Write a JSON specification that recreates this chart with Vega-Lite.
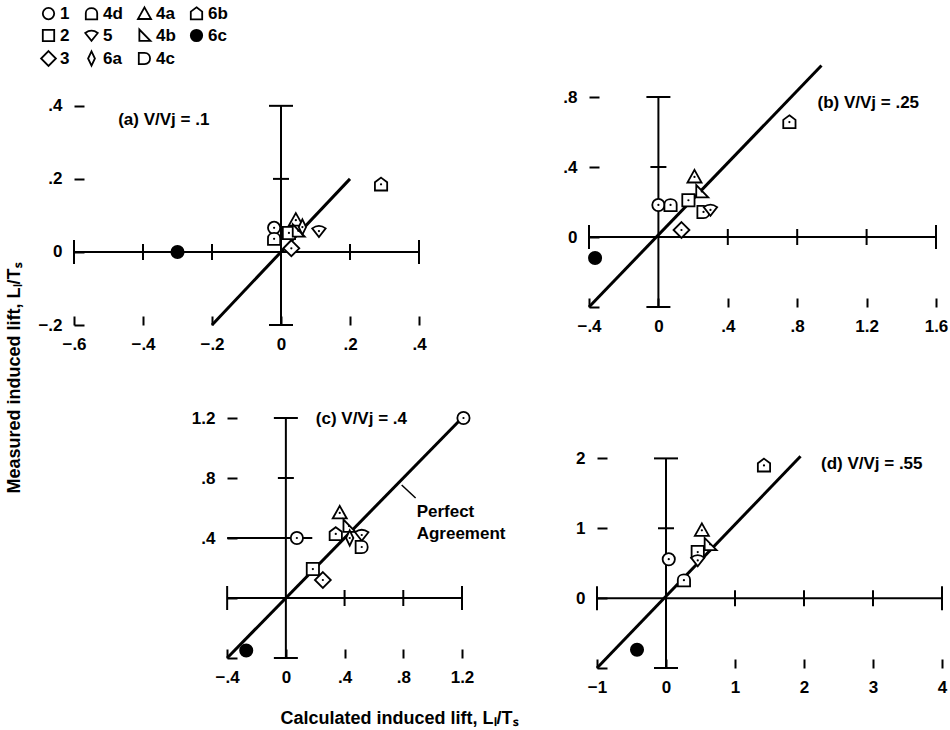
{
  "$schema": "https://vega.github.io/schema/vega-lite/v6.json",
  "padding": {"left": 5, "top": 5, "right": 2, "bottom": 2},
  "title": {"text": "Measured induced lift, Lₗ/Tₛ", "orient": "left", "anchor": "middle", "fontSize": 18, "font": "Liberation Sans", "fontWeight": "bold", "color": "black", "offset": 14, "dx": -12},
  "datasets": {
    "pa": [
      {"config": "6c", "x": -0.30, "y": 0.0},
      {"config": "6b", "x": 0.29, "y": 0.185},
      {"config": "1", "x": -0.02, "y": 0.066},
      {"config": "4d", "x": -0.02, "y": 0.036},
      {"config": "2", "x": 0.023, "y": 0.052},
      {"config": "4a", "x": 0.043, "y": 0.087},
      {"config": "4b", "x": 0.05, "y": 0.058},
      {"config": "6a", "x": 0.062, "y": 0.068},
      {"config": "5", "x": 0.11, "y": 0.057},
      {"config": "3", "x": 0.03, "y": 0.01}
    ],
    "pb": [
      {"config": "6c", "x": -0.365, "y": -0.12},
      {"config": "1", "x": 0.0, "y": 0.183},
      {"config": "4d", "x": 0.07, "y": 0.183},
      {"config": "2", "x": 0.173, "y": 0.21},
      {"config": "4a", "x": 0.208, "y": 0.343},
      {"config": "4b", "x": 0.25, "y": 0.26},
      {"config": "4c", "x": 0.26, "y": 0.143},
      {"config": "5", "x": 0.30, "y": 0.155},
      {"config": "3", "x": 0.133, "y": 0.04},
      {"config": "6b", "x": 0.755, "y": 0.657}
    ],
    "pc": [
      {"config": "1", "x": 0.075, "y": 0.40},
      {"config": "1", "x": 1.21, "y": 1.2},
      {"config": "4a", "x": 0.367, "y": 0.567},
      {"config": "6b", "x": 0.34, "y": 0.427},
      {"config": "4b", "x": 0.43, "y": 0.48},
      {"config": "6a", "x": 0.435, "y": 0.40},
      {"config": "5", "x": 0.517, "y": 0.42},
      {"config": "4c", "x": 0.517, "y": 0.34},
      {"config": "2", "x": 0.184, "y": 0.193},
      {"config": "3", "x": 0.252, "y": 0.12},
      {"config": "6c", "x": -0.27, "y": -0.35}
    ],
    "pd": [
      {"config": "1", "x": 0.04, "y": 0.557},
      {"config": "4d", "x": 0.26, "y": 0.257},
      {"config": "2", "x": 0.46, "y": 0.66},
      {"config": "5", "x": 0.46, "y": 0.54},
      {"config": "4a", "x": 0.52, "y": 0.97},
      {"config": "4b", "x": 0.64, "y": 0.77},
      {"config": "6b", "x": 1.42, "y": 1.9},
      {"config": "6c", "x": -0.42, "y": -0.74}
    ]
  },
  "spacing": 54,
  "vconcat": [
    {
      "spacing": 135,
      "hconcat": [
        {
          "width": 345, "height": 263,
          "encoding": {
            "x": {"field": "x", "type": "quantitative", "scale": {"domain": [-0.6, 0.4], "nice": false, "zero": false},
                  "axis": {"values": [-0.6, -0.4, -0.2, 0, 0.2, 0.4], "labelExpr": "datum.value == 0 ? '0' : replace(format(datum.value, '~g'), '0.', '.')", "title": null}},
            "y": {"field": "y", "type": "quantitative", "scale": {"domain": [-0.2, 0.52], "nice": false, "zero": false},
                  "axis": {"values": [-0.2, 0, 0.2, 0.4], "labelExpr": "datum.value == 0 ? '0' : replace(format(datum.value, '~g'), '0.', '.')", "title": null}}
          },
          "layer": [
            {"data": {"values": [{"x": -0.6, "x2": 0.4, "y": 0}]}, "mark": {"type": "rule", "strokeWidth": 2, "color": "black"}, "encoding": {"x2": {"field": "x2"}}},
            {"data": {"values": [{"x": 0, "y": -0.2, "y2": 0.4}]}, "mark": {"type": "rule", "strokeWidth": 2, "color": "black"}, "encoding": {"y2": {"field": "y2"}}},
            {"data": {"values": [{"x": -0.2, "y": -0.2, "x2": 0.2, "y2": 0.2}]}, "mark": {"type": "rule", "strokeWidth": 3, "color": "black"}, "encoding": {"x2": {"field": "x2"}, "y2": {"field": "y2"}}},
            {"data": {"values": [{"x": -0.6, "y": 0, "kind": "end"}, {"x": -0.4, "y": 0, "kind": "mid"}, {"x": -0.2, "y": 0, "kind": "mid"}, {"x": 0.2, "y": 0, "kind": "mid"}, {"x": 0.4, "y": 0, "kind": "end"}]},
             "mark": {"type": "tick", "orient": "vertical", "thickness": 2, "color": "black", "opacity": 1},
             "encoding": {"size": {"field": "kind", "type": "nominal", "scale": {"domain": ["mid", "end"], "range": [16, 24]}, "legend": null}}},
            {"data": {"values": [{"x": 0, "y": -0.2, "kind": "end"}, {"x": 0, "y": 0.2, "kind": "mid"}, {"x": 0, "y": 0.4, "kind": "end"}]},
             "mark": {"type": "tick", "orient": "horizontal", "thickness": 2, "color": "black", "opacity": 1},
             "encoding": {"size": {"field": "kind", "type": "nominal", "scale": {"domain": ["mid", "end"], "range": [16, 24]}, "legend": null}}},
            {"data": {"name": "pa"}, "mark": {"type": "point", "filled": true, "size": 150, "strokeWidth": 1.8, "stroke": "black", "opacity": 1},
             "encoding": {
               "shape": {"field": "config", "type": "nominal", "scale": {"domain": ["1", "2", "3", "4d", "5", "6a", "4a", "4b", "4c", "6b", "6c"], "range": ["circle", "square", "M0,-1.3L1.3,0L0,1.3L-1.3,0Z", "M-1,1L-1,-0.1C-1,-1.25 1,-1.25 1,-0.1L1,1Z", "M-1.1,-0.45Q0,-1.25 1.1,-0.45L0,0.95Z", "M0,-1.25L0.6,0L0,1.25L-0.6,0Z", "M0,-1.15L1.15,0.9L-1.15,0.9Z", "M-0.9,-1.05L-0.9,0.95L1.05,0.95Z", "M-1,-1L0,-1C1.3,-1 1.3,1 0,1L-1,1Z", "M0,-1.1L1,-0.35L1,1L-1,1L-1,-0.35Z", "circle"]}, "legend": {"title": null}},
               "color": {"field": "config", "type": "nominal", "scale": {"domain": ["1", "2", "3", "4d", "5", "6a", "4a", "4b", "4c", "6b", "6c"], "range": ["white", "white", "white", "white", "white", "white", "white", "white", "white", "white", "black"]}, "legend": {"title": null}}
             }},
            {"data": {"name": "pa"}, "transform": [{"filter": "datum.config != '6c'"}], "mark": {"type": "circle", "size": 5, "color": "black", "opacity": 1}},
            {"data": {"values": [{"x": -0.472, "y": 0.36, "label": "(a) V/Vj = .1"}]}, "mark": {"type": "text", "align": "left", "baseline": "middle", "fontSize": 17, "fontWeight": "bold", "font": "Liberation Sans", "color": "black"}, "encoding": {"text": {"field": "label"}}}
          ]
        },
        {
          "width": 347, "height": 245,
          "encoding": {
            "x": {"field": "x", "type": "quantitative", "scale": {"domain": [-0.4, 1.6], "nice": false, "zero": false},
                  "axis": {"values": [-0.4, 0, 0.4, 0.8, 1.2, 1.6], "labelExpr": "datum.value == 0 ? '0' : replace(format(datum.value, '~g'), '0.', '.')", "title": null}},
            "y": {"field": "y", "type": "quantitative", "scale": {"domain": [-0.4, 1.0], "nice": false, "zero": false},
                  "axis": {"values": [-0.4, 0, 0.4, 0.8], "labelExpr": "datum.value < -0.3 ? '' : datum.value == 0 ? '0' : replace(format(datum.value, '~g'), '0.', '.')", "title": null}}
          },
          "layer": [
            {"data": {"values": [{"x": -0.4, "x2": 1.6, "y": 0}]}, "mark": {"type": "rule", "strokeWidth": 2, "color": "black"}, "encoding": {"x2": {"field": "x2"}}},
            {"data": {"values": [{"x": 0, "y": -0.4, "y2": 0.8}]}, "mark": {"type": "rule", "strokeWidth": 2, "color": "black"}, "encoding": {"y2": {"field": "y2"}}},
            {"data": {"values": [{"x": -0.4, "y": -0.4, "x2": 0.94, "y2": 0.98}]}, "mark": {"type": "rule", "strokeWidth": 3, "color": "black"}, "encoding": {"x2": {"field": "x2"}, "y2": {"field": "y2"}}},
            {"data": {"values": [{"x": -0.4, "y": 0, "kind": "end"}, {"x": 0.4, "y": 0, "kind": "mid"}, {"x": 0.8, "y": 0, "kind": "mid"}, {"x": 1.2, "y": 0, "kind": "mid"}, {"x": 1.6, "y": 0, "kind": "end"}]},
             "mark": {"type": "tick", "orient": "vertical", "thickness": 2, "color": "black", "opacity": 1},
             "encoding": {"size": {"field": "kind", "type": "nominal", "scale": {"domain": ["mid", "end"], "range": [16, 24]}, "legend": null}}},
            {"data": {"values": [{"x": 0, "y": -0.4, "kind": "end"}, {"x": 0, "y": 0.4, "kind": "mid"}, {"x": 0, "y": 0.8, "kind": "end"}]},
             "mark": {"type": "tick", "orient": "horizontal", "thickness": 2, "color": "black", "opacity": 1},
             "encoding": {"size": {"field": "kind", "type": "nominal", "scale": {"domain": ["mid", "end"], "range": [16, 24]}, "legend": null}}},
            {"data": {"name": "pb"}, "mark": {"type": "point", "filled": true, "size": 150, "strokeWidth": 1.8, "stroke": "black", "opacity": 1},
             "encoding": {
               "shape": {"field": "config", "type": "nominal", "scale": {"domain": ["1", "2", "3", "4d", "5", "6a", "4a", "4b", "4c", "6b", "6c"], "range": ["circle", "square", "M0,-1.3L1.3,0L0,1.3L-1.3,0Z", "M-1,1L-1,-0.1C-1,-1.25 1,-1.25 1,-0.1L1,1Z", "M-1.1,-0.45Q0,-1.25 1.1,-0.45L0,0.95Z", "M0,-1.25L0.6,0L0,1.25L-0.6,0Z", "M0,-1.15L1.15,0.9L-1.15,0.9Z", "M-0.9,-1.05L-0.9,0.95L1.05,0.95Z", "M-1,-1L0,-1C1.3,-1 1.3,1 0,1L-1,1Z", "M0,-1.1L1,-0.35L1,1L-1,1L-1,-0.35Z", "circle"]}, "legend": {"title": null}},
               "color": {"field": "config", "type": "nominal", "scale": {"domain": ["1", "2", "3", "4d", "5", "6a", "4a", "4b", "4c", "6b", "6c"], "range": ["white", "white", "white", "white", "white", "white", "white", "white", "white", "white", "black"]}, "legend": {"title": null}}
             }},
            {"data": {"name": "pb"}, "transform": [{"filter": "datum.config != '6c'"}], "mark": {"type": "circle", "size": 5, "color": "black", "opacity": 1}},
            {"data": {"values": [{"x": 0.917, "y": 0.766, "label": "(b) V/Vj = .25"}]}, "mark": {"type": "text", "align": "left", "baseline": "middle", "fontSize": 17, "fontWeight": "bold", "font": "Liberation Sans", "color": "black"}, "encoding": {"text": {"field": "label"}}}
          ]
        }
      ]
    },
    {
      "spacing": 56,
      "hconcat": [
        {
          "width": 388, "height": 252,
          "encoding": {
            "x": {"field": "x", "type": "quantitative", "scale": {"domain": [-1.4434, 1.2], "nice": false, "zero": false},
                  "axis": {"values": [-0.4, 0, 0.4, 0.8, 1.2], "labelExpr": "datum.value == 0 ? '0' : replace(format(datum.value, '~g'), '0.', '.')",
                           "title": "Calculated induced lift, Lₗ/Tₛ", "titleX": 325, "titlePadding": 24}},
            "y": {"field": "y", "type": "quantitative", "scale": {"domain": [-0.4, 1.28], "nice": false, "zero": false},
                  "axis": {"values": [-0.4, 0, 0.4, 0.8, 1.2], "labelExpr": "datum.value <= 0 ? '' : replace(format(datum.value, '~g'), '0.', '.')",
                           "title": null, "offset": -153}}
          },
          "layer": [
            {"data": {"values": [{"x": -0.4, "x2": 1.2, "y": 0}]}, "mark": {"type": "rule", "strokeWidth": 2, "color": "black"}, "encoding": {"x2": {"field": "x2"}}},
            {"data": {"values": [{"x": 0, "y": -0.4, "y2": 1.2}]}, "mark": {"type": "rule", "strokeWidth": 2, "color": "black"}, "encoding": {"y2": {"field": "y2"}}},
            {"data": {"values": [{"x": -0.4, "y": 0.4, "x2": 0.18}]}, "mark": {"type": "rule", "strokeWidth": 2, "color": "black"}, "encoding": {"x2": {"field": "x2"}}},
            {"data": {"values": [{"x": -0.4, "y": -0.4, "x2": 1.2, "y2": 1.2}]}, "mark": {"type": "rule", "strokeWidth": 3, "color": "black"}, "encoding": {"x2": {"field": "x2"}, "y2": {"field": "y2"}}},
            {"data": {"values": [{"x": 0.789, "y": 0.753, "x2": 0.884, "y2": 0.667}]}, "mark": {"type": "rule", "strokeWidth": 1.5, "color": "black"}, "encoding": {"x2": {"field": "x2"}, "y2": {"field": "y2"}}},
            {"data": {"values": [{"x": -0.4, "y": 0, "kind": "end"}, {"x": 0.4, "y": 0, "kind": "mid"}, {"x": 0.8, "y": 0, "kind": "mid"}, {"x": 1.2, "y": 0, "kind": "end"}]},
             "mark": {"type": "tick", "orient": "vertical", "thickness": 2, "color": "black", "opacity": 1},
             "encoding": {"size": {"field": "kind", "type": "nominal", "scale": {"domain": ["mid", "end"], "range": [16, 24]}, "legend": null}}},
            {"data": {"values": [{"x": 0, "y": -0.4, "kind": "end"}, {"x": 0, "y": 0.4, "kind": "mid"}, {"x": 0, "y": 0.8, "kind": "mid"}, {"x": 0, "y": 1.2, "kind": "end"}]},
             "mark": {"type": "tick", "orient": "horizontal", "thickness": 2, "color": "black", "opacity": 1},
             "encoding": {"size": {"field": "kind", "type": "nominal", "scale": {"domain": ["mid", "end"], "range": [16, 24]}, "legend": null}}},
            {"data": {"name": "pc"}, "mark": {"type": "point", "filled": true, "size": 150, "strokeWidth": 1.8, "stroke": "black", "opacity": 1},
             "encoding": {
               "shape": {"field": "config", "type": "nominal", "scale": {"domain": ["1", "2", "3", "4d", "5", "6a", "4a", "4b", "4c", "6b", "6c"], "range": ["circle", "square", "M0,-1.3L1.3,0L0,1.3L-1.3,0Z", "M-1,1L-1,-0.1C-1,-1.25 1,-1.25 1,-0.1L1,1Z", "M-1.1,-0.45Q0,-1.25 1.1,-0.45L0,0.95Z", "M0,-1.25L0.6,0L0,1.25L-0.6,0Z", "M0,-1.15L1.15,0.9L-1.15,0.9Z", "M-0.9,-1.05L-0.9,0.95L1.05,0.95Z", "M-1,-1L0,-1C1.3,-1 1.3,1 0,1L-1,1Z", "M0,-1.1L1,-0.35L1,1L-1,1L-1,-0.35Z", "circle"]}, "legend": {"title": null}},
               "color": {"field": "config", "type": "nominal", "scale": {"domain": ["1", "2", "3", "4d", "5", "6a", "4a", "4b", "4c", "6b", "6c"], "range": ["white", "white", "white", "white", "white", "white", "white", "white", "white", "white", "black"]}, "legend": {"title": null}}
             }},
            {"data": {"name": "pc"}, "transform": [{"filter": "datum.config != '6c'"}], "mark": {"type": "circle", "size": 5, "color": "black", "opacity": 1}},
            {"data": {"values": [{"x": 0.204, "y": 1.193, "label": "(c) V/Vj = .4"}, {"x": 0.891, "y": 0.573, "label": "Perfect"}, {"x": 0.891, "y": 0.427, "label": "Agreement"}]}, "mark": {"type": "text", "align": "left", "baseline": "middle", "fontSize": 17, "fontWeight": "bold", "font": "Liberation Sans", "color": "black"}, "encoding": {"text": {"field": "label"}}}
          ]
        },
        {
          "width": 345, "height": 262,
          "encoding": {
            "x": {"field": "x", "type": "quantitative", "scale": {"domain": [-1, 4], "nice": false, "zero": false},
                  "axis": {"values": [-1, 0, 1, 2, 3, 4], "labelExpr": "format(datum.value, '~g')", "title": null}},
            "y": {"field": "y", "type": "quantitative", "scale": {"domain": [-1, 2.75], "nice": false, "zero": false},
                  "axis": {"values": [-1, 0, 1, 2], "labelExpr": "datum.value < -0.5 ? '' : format(datum.value, '~g')", "title": null}}
          },
          "layer": [
            {"data": {"values": [{"x": -1, "x2": 4, "y": 0}]}, "mark": {"type": "rule", "strokeWidth": 2, "color": "black"}, "encoding": {"x2": {"field": "x2"}}},
            {"data": {"values": [{"x": 0, "y": -1, "y2": 2}]}, "mark": {"type": "rule", "strokeWidth": 2, "color": "black"}, "encoding": {"y2": {"field": "y2"}}},
            {"data": {"values": [{"x": -1, "y": -1, "x2": 1.95, "y2": 2.03}]}, "mark": {"type": "rule", "strokeWidth": 3, "color": "black"}, "encoding": {"x2": {"field": "x2"}, "y2": {"field": "y2"}}},
            {"data": {"values": [{"x": -1, "y": 0, "kind": "end"}, {"x": 1, "y": 0, "kind": "mid"}, {"x": 2, "y": 0, "kind": "mid"}, {"x": 3, "y": 0, "kind": "mid"}, {"x": 4, "y": 0, "kind": "end"}]},
             "mark": {"type": "tick", "orient": "vertical", "thickness": 2, "color": "black", "opacity": 1},
             "encoding": {"size": {"field": "kind", "type": "nominal", "scale": {"domain": ["mid", "end"], "range": [16, 24]}, "legend": null}}},
            {"data": {"values": [{"x": 0, "y": -1, "kind": "end"}, {"x": 0, "y": 1, "kind": "mid"}, {"x": 0, "y": 2, "kind": "end"}]},
             "mark": {"type": "tick", "orient": "horizontal", "thickness": 2, "color": "black", "opacity": 1},
             "encoding": {"size": {"field": "kind", "type": "nominal", "scale": {"domain": ["mid", "end"], "range": [16, 24]}, "legend": null}}},
            {"data": {"name": "pd"}, "mark": {"type": "point", "filled": true, "size": 150, "strokeWidth": 1.8, "stroke": "black", "opacity": 1},
             "encoding": {
               "shape": {"field": "config", "type": "nominal", "scale": {"domain": ["1", "2", "3", "4d", "5", "6a", "4a", "4b", "4c", "6b", "6c"], "range": ["circle", "square", "M0,-1.3L1.3,0L0,1.3L-1.3,0Z", "M-1,1L-1,-0.1C-1,-1.25 1,-1.25 1,-0.1L1,1Z", "M-1.1,-0.45Q0,-1.25 1.1,-0.45L0,0.95Z", "M0,-1.25L0.6,0L0,1.25L-0.6,0Z", "M0,-1.15L1.15,0.9L-1.15,0.9Z", "M-0.9,-1.05L-0.9,0.95L1.05,0.95Z", "M-1,-1L0,-1C1.3,-1 1.3,1 0,1L-1,1Z", "M0,-1.1L1,-0.35L1,1L-1,1L-1,-0.35Z", "circle"]}, "legend": {"title": null}},
               "color": {"field": "config", "type": "nominal", "scale": {"domain": ["1", "2", "3", "4d", "5", "6a", "4a", "4b", "4c", "6b", "6c"], "range": ["white", "white", "white", "white", "white", "white", "white", "white", "white", "white", "black"]}, "legend": {"title": null}}
             }},
            {"data": {"name": "pd"}, "transform": [{"filter": "datum.config != '6c'"}], "mark": {"type": "circle", "size": 5, "color": "black", "opacity": 1}},
            {"data": {"values": [{"x": 2.246, "y": 1.914, "label": "(d) V/Vj = .55"}]}, "mark": {"type": "text", "align": "left", "baseline": "middle", "fontSize": 17, "fontWeight": "bold", "font": "Liberation Sans", "color": "black"}, "encoding": {"text": {"field": "label"}}}
          ]
        }
      ]
    }
  ],
  "config": {
    "view": {"stroke": null},
    "font": "Liberation Sans",
    "axis": {"domain": false, "grid": false, "labelFont": "Liberation Sans", "labelFontSize": 17, "labelFontWeight": "bold", "labelColor": "black", "tickColor": "black", "tickWidth": 2, "labelFlush": false, "labelOverlap": false, "titleFont": "Liberation Sans", "titleFontSize": 18, "titleFontWeight": "bold", "titleColor": "black"},
    "axisX": {"tickSize": -9, "labelPadding": 20},
    "axisY": {"tickSize": -10, "labelPadding": 22},
    "legend": {"orient": "none", "legendX": -34, "legendY": -57, "columns": 4, "gridAlign": "each", "labelFont": "Liberation Sans", "labelFontSize": 17, "labelFontWeight": "bold", "labelColor": "black", "symbolSize": 130, "symbolStrokeWidth": 1.8, "symbolStrokeColor": "black", "rowPadding": 2, "columnPadding": 11, "labelOffset": 3}
  }
}
